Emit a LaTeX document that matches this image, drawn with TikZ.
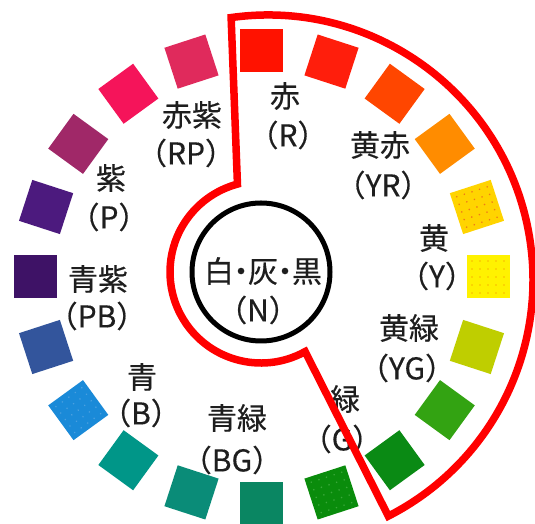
\documentclass[tikz,border=0pt]{standalone}
\usepackage{fontspec}
\newfontfamily\jp[FakeBold=0.4]{Noto Sans CJK JP}
\usetikzlibrary{calc}
\definecolor{c0}{HTML}{FF1200}
\definecolor{c1}{HTML}{FF1E0C}
\definecolor{c2}{HTML}{FF4600}
\definecolor{c3}{HTML}{FF8C00}
\definecolor{c4}{HTML}{FFD400}
\definecolor{c5}{HTML}{FFF200}
\definecolor{c6}{HTML}{BFCE00}
\definecolor{c7}{HTML}{33A312}
\definecolor{c8}{HTML}{0A8A14}
\definecolor{c9}{HTML}{0A8C0C}
\definecolor{c10}{HTML}{0A8662}
\definecolor{c11}{HTML}{0A8C78}
\definecolor{c12}{HTML}{009688}
\definecolor{c13}{HTML}{1A8AD8}
\definecolor{c14}{HTML}{33559C}
\definecolor{c15}{HTML}{3E1266}
\definecolor{c16}{HTML}{4C1A7E}
\definecolor{c17}{HTML}{A02868}
\definecolor{c18}{HTML}{F5145A}
\definecolor{c19}{HTML}{E02A5C}
\definecolor{d4}{HTML}{F07818}
\definecolor{d5}{HTML}{F8B800}
\definecolor{d9}{HTML}{3AA83A}
\definecolor{d13}{HTML}{4AA0E0}
\definecolor{txt}{HTML}{1E1E1E}
\definecolor{outline}{HTML}{FF0000}
\begin{document}
\begin{tikzpicture}[x=1pt,y=1pt,
  sq/.style={minimum size=43pt, inner sep=0pt, outer sep=0pt},
  lbl/.style={font=\jp\fontsize{30}{36}\selectfont, text=txt, inner sep=0pt},
  redline/.style={draw=outline, line width=7.5pt, line join=miter},
  ring/.style={draw=black, line width=5pt, circle, minimum size=138pt, inner sep=0pt}]
\useasboundingbox[fill=white] (0,0) rectangle (535,524);
\coordinate (wc) at (261.5,247);
\coordinate (oc) at (268,244);
\coordinate (ic) at (261,252);
% colour squares
\foreach \k/\c in {0/c0,1/c1,2/c2,3/c3,4/c4,5/c5,6/c6,7/c7,8/c8,9/c9,10/c10,11/c11,12/c12,13/c13,14/c14,15/c15,16/c16,17/c17,18/c18,19/c19}{
  \pgfmathsetmacro\ang{90-18*\k}
  \node[sq, fill=\c, rotate=\ang-90] (s\k) at ($(wc)+(\ang:226.5)$) {};
}
% dotted squares
\foreach \k/\d in {4/d4,5/d5,9/d9,13/d13}{
  \begin{scope}[shift={(s\k.center)}, rotate=-18*\k]
    \foreach \i in {-16,-8,0,8,16}{
      \foreach \j in {-16,-8,0,8,16}{
        \fill[\d] (\i,\j) circle (0.9);
      }
    }
  \end{scope}
}
% centre
\node[ring] (N) at (ic) {};
\node[lbl] (n1) at (263,253) {白\kern-8pt・\kern-8pt灰\kern-8pt・\kern-8pt黒};
\node[lbl] (n2) at (258,214) {（N）};
% labels
\node[lbl] (r1) at (285,428) {赤};
\node[lbl] (r2) at (288,389) {（R）};
\node[lbl] (yr1) at (380,379) {黄赤};
\node[lbl] (yr2) at (383,339) {（YR）};
\node[lbl] (y1) at (434,286) {黄};
\node[lbl] (y2) at (437,248) {（Y）};
\node[lbl] (yg1) at (409,196) {黄緑};
\node[lbl] (yg2) at (407,156) {（YG）};
\node[lbl] (g1) at (345,125) {緑};
\node[lbl] (g2) at (342,85) {（G）};
\node[lbl] (bg1) at (237,106) {青緑};
\node[lbl] (bg2) at (232,64) {（BG）};
\node[lbl] (b1) at (142,147) {青};
\node[lbl] (b2) at (141,111) {（B）};
\node[lbl] (pb1) at (98,245) {青紫};
\node[lbl] (pb2) at (97,208) {（PB）};
\node[lbl] (p1) at (111,346) {紫};
\node[lbl] (p2) at (109,307) {（P）};
\node[lbl] (rp1) at (192,409) {赤紫};
\node[lbl] (rp2) at (186,371) {（RP）};
% red outline
\draw[redline] ($(oc)+(98:265)$) arc[start angle=98, end angle=-63, radius=265]
  -- ($(ic)+(-61:91)$) arc[start angle=-61, end angle=-255, radius=91] -- cycle;
\end{tikzpicture}
\end{document}
